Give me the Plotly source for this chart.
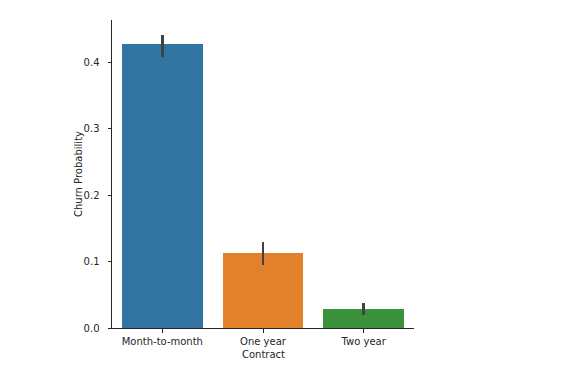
import plotly.graph_objects as go

categories = ["Month-to-month", "One year", "Two year"]
churn_prob = [0.4271, 0.1127, 0.0283]
ci_upper = [0.4416, 0.1293, 0.0380]
ci_lower = [0.4084, 0.0956, 0.0190]
colors = ["#3274a1", "#e1812c", "#3a923a"]
x_title = "Contract"
y_title = "Churn Probability"

err_plus = [u - m for u, m in zip(ci_upper, churn_prob)]
err_minus = [m - l for m, l in zip(churn_prob, ci_lower)]

fig = go.Figure()
fig.add_trace(go.Bar(
    x=list(range(len(categories))),
    y=churn_prob,
    width=0.8,
    marker=dict(color=colors, line=dict(width=0)),
    error_y=dict(type="data", array=err_plus, arrayminus=err_minus,
                 color="#424242", thickness=2.7, width=0, symmetric=False),
    showlegend=False,
))

axis_font = dict(family="DejaVu Sans", size=10, color="#262626")
fig.update_layout(
    width=561, height=357,
    margin=dict(l=104, r=155, t=12, b=37, autoexpand=False),
    paper_bgcolor="white", plot_bgcolor="white",
    font=axis_font,
    bargap=0,
    xaxis=dict(
        range=[-0.5, 2.5],
        tickmode="array",
        tickvals=list(range(len(categories))),
        ticktext=categories,
        showline=True, linecolor="#262626", linewidth=1,
        ticks="outside", ticklen=3.5, tickwidth=0.8, tickcolor="#262626",
        showgrid=False, zeroline=False,
    ),
    yaxis=dict(
        range=[0, 0.4637],
        tickmode="array",
        tickvals=[0.0, 0.1, 0.2, 0.3, 0.4],
        ticktext=["0.0", "0.1", "0.2", "0.3", "0.4"],
        showline=True, linecolor="#262626", linewidth=1,
        ticks="outside", ticklen=3.5, tickwidth=0.8, tickcolor="#262626",
        ticklabelstandoff=6,
        showgrid=False, zeroline=False,
    ),
    annotations=[
        dict(text=x_title, xref="paper", yref="paper", x=0.5, y=0,
             xanchor="center", yanchor="middle", yshift=-26,
             showarrow=False, font=axis_font),
        dict(text=y_title, xref="paper", yref="paper", x=0, y=0.5,
             xanchor="center", yanchor="middle", xshift=-34, textangle=-90,
             showarrow=False, font=axis_font),
    ],
)

fig.write_html("out.html")
